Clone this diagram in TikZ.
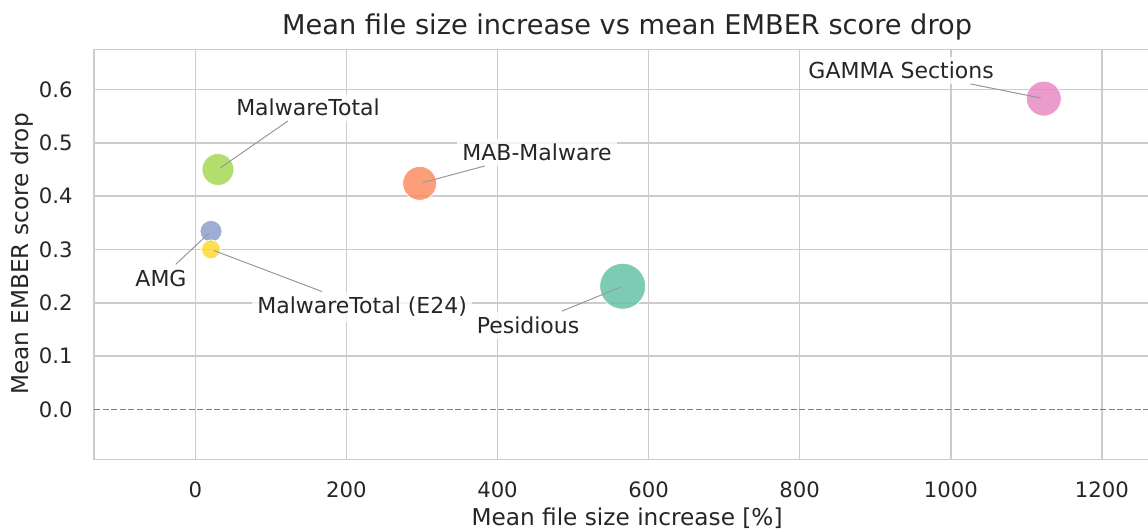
\documentclass[tikz,border=0pt]{standalone}
\usepackage{fontspec}
\setmainfont{DejaVu Sans}
\definecolor{txtc}{HTML}{262626}
\definecolor{gridc}{HTML}{CCCCCC}
\definecolor{leadc}{HTML}{999999}
\definecolor{zeroc}{HTML}{808080}
\definecolor{setteal}{HTML}{66C2A5}
\definecolor{setorange}{HTML}{FC8D62}
\definecolor{setblue}{HTML}{8DA0CB}
\definecolor{setpink}{HTML}{E78AC3}
\definecolor{setgreen}{HTML}{A6D854}
\definecolor{setyellow}{HTML}{FFD92F}
\tikzset{plt/.style={
  x=0.37775pt,
  y=266.5pt
}}
\tikzset{gridln/.style={
  draw=gridc,
  line width=0.75pt
}}
\tikzset{pt/.style={
  circle,
  draw=white,
  line width=0.4pt,
  fill opacity=0.85,
  inner sep=0pt
}}
\tikzset{lbl/.style={
  text=txtc,
  fill=white,
  fill opacity=0.8,
  text opacity=1,
  inner sep=2.5pt,
  font=\fontsize{11}{13}\selectfont
}}
\tikzset{lead/.style={
  draw=leadc,
  line width=0.5pt,
  shorten >=1.5pt
}}
\tikzset{tick/.style={
  text=txtc,
  inner sep=0pt,
  font=\fontsize{10.6}{12}\selectfont
}}
\tikzset{axlab/.style={
  text=txtc,
  inner sep=0pt,
  font=\fontsize{11.6}{13}\selectfont
}}

\begin{document}
\begin{tikzpicture}[plt]
    \useasboundingbox (-258.5,-0.2246) rectangle (1261,0.768);

    % Grid
    \foreach \x in {0,200,...,1200}
      \draw[gridln] (\x,-0.094) -- (\x,0.675);
    \foreach \y in {0.1,0.2,0.3,0.4,0.5,0.6}
      \draw[gridln] (-134,\y) -- (1261,\y);
    \draw[gridln] (1261,0.675) -- (-134,0.675) -- (-134,-0.094) -- (1261,-0.094);
    \draw[zeroc,line width=0.5pt,dash pattern=on 3pt off 1.3pt] (-134,0) -- (1261,0);

    % Ticks
    \foreach \x in {0,200,...,1200}
      \node[tick] (xt\x) at (\x,-0.1514) {\x};
    \foreach \y in {0.0,0.1,0.2,0.3,0.4,0.5,0.6}
      \node[tick,anchor=east] (yt\y) at (-161.9,\y) {\y};

    % Axis labels and title
    \node[axlab] (xlab) at (571.5,-0.2049) {Mean file size increase [\%]};
    \node[axlab,rotate=90] (ylab) at (-229.4,0.2914) {Mean EMBER score drop};
    \node[text=txtc,font=\fontsize{13.6}{15}\selectfont] (title) at (571.5,0.7172)
      {Mean file size increase vs mean EMBER score drop};

    % Points
    \node[pt,fill=setteal,minimum size=23pt] (pPes) at (565.7,0.231) {};
    \node[pt,fill=setorange,minimum size=17pt] (pMAB) at (297,0.424) {};
    \node[pt,fill=setblue,minimum size=11pt] (pAMG) at (20.8,0.334) {};
    \node[pt,fill=setpink,minimum size=17.5pt] (pGam) at (1123,0.583) {};
    \node[pt,fill=setgreen,minimum size=16pt] (pMT) at (30,0.45) {};
    \node[pt,fill=setyellow,minimum size=9.5pt] (pMTE) at (20.8,0.300) {};

    % Labels
    \node[lbl] (lMT) at (149.2,0.5672) {MalwareTotal};
    \node[lbl] (lMAB) at (452.3,0.4827) {MAB-Malware};
    \node[lbl] (lGam) at (934.2,0.6366) {GAMMA Sections};
    \node[lbl] (lAMG) at (-45.4,0.2463) {AMG};
    \node[lbl] (lMTE) at (220.8,0.1925) {MalwareTotal (E24)};
    \node[lbl] (lPes) at (440.4,0.1582) {Pesidious};

    % Leaders
    \draw[lead] (lMT) -- (pMT.center);
    \draw[lead] (lMAB) -- (pMAB.center);
    \draw[lead] (lGam) -- (pGam.center);
    \draw[lead] (lAMG) -- (pAMG.center);
    \draw[lead] (lMTE) -- (pMTE.center);
    \draw[lead] (lPes) -- (pPes.center);

  \end{tikzpicture}
\end{document}
